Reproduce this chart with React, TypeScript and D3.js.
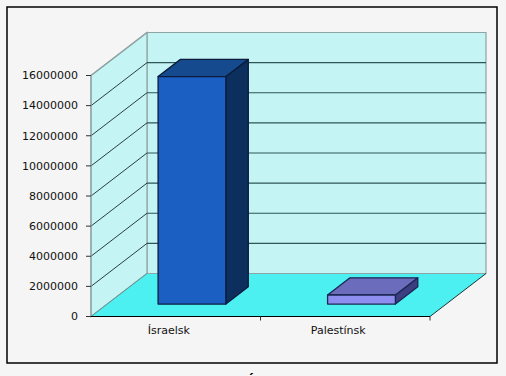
import React from "react";
import * as d3 from "d3";

const categories = ["Ísraelsk", "Palestínsk"];
const values = [15100000, 600000];
const yTicks = [0, 2000000, 4000000, 6000000, 8000000, 10000000, 12000000, 14000000, 16000000];
const title = "Í";

const barFront = ["#1c5fc3", "#8d8ef0"];
const barTop = ["#164a8e", "#6b6cbc"];
const barSide = ["#0d2f5d", "#3d3e82"];
const barStroke = ["#0a1b3c", "#1a2650"];

export default function App() {
  const W = 506, H = 376;
  const x0 = 91, x1 = 430;
  const DX = 56, DY = -43;
  const y = d3.scaleLinear().domain([0, 16000000]).range([316.5, 75.5]);
  const xb = d3.scaleBand<string>().domain(categories).range([x0, x1]).paddingInner(0.6).paddingOuter(0.3);
  const P = (px: number, py: number, z: number): [number, number] => [px + DX * z, py + DY * z];
  const pts = (arr: [number, number][]) => arr.map((p) => p.join(",")).join(" ");
  const yMin = y(0), yMax = y(16000000);
  const zf = 0.29, zb = 0.69;
  const step = xb.step();

  return (
    <svg width={W} height={H} style={{ position: "absolute", left: 0, top: 0, background: "#f5f5f5" }}
      fontFamily="'DejaVu Sans', sans-serif">
      <rect x={0} y={0} width={W} height={H} fill="#f5f5f5" />
      <rect x={7} y={7} width={490} height={356} fill="#f5f5f5" stroke="#000" strokeWidth={1.5} />
      {/* back wall */}
      <polygon points={pts([P(x0, yMax, 1), P(x1, yMax, 1), P(x1, yMin, 1), P(x0, yMin, 1)])}
        fill="#c4f4f3" stroke="#8fa4a4" strokeWidth={1.2} />
      {/* side wall */}
      <polygon points={pts([P(x0, yMax, 0), P(x0, yMax, 1), P(x0, yMin, 1), P(x0, yMin, 0)])}
        fill="#c4f4f3" stroke="#8fa4a4" strokeWidth={1.2} />
      {/* floor */}
      <polygon points={pts([P(x0, yMin, 0), P(x1, yMin, 0), P(x1, yMin, 1), P(x0, yMin, 1)])}
        fill="#4cf0f0" />
      <line x1={P(x0, yMin, 0)[0]} y1={P(x0, yMin, 0)[1]} x2={P(x0, yMin, 1)[0]} y2={P(x0, yMin, 1)[1]} stroke="#6a9090" strokeWidth={1} />
      <line x1={P(x0, yMin, 1)[0]} y1={P(x0, yMin, 1)[1]} x2={P(x1, yMin, 1)[0]} y2={P(x1, yMin, 1)[1]} stroke="#8fa4a4" strokeWidth={1.2} />
      <line x1={P(x1, yMin, 0)[0]} y1={P(x1, yMin, 0)[1]} x2={P(x1, yMin, 1)[0]} y2={P(x1, yMin, 1)[1]} stroke="#1d3434" strokeWidth={1} />
      {/* gridlines */}
      {yTicks.filter((t) => t > 0 && t < 16000000).map((t) => {
        const a = P(x0, y(t), 0), b = P(x0, y(t), 1), c = P(x1, y(t), 1);
        return (
          <g key={t}>
            <line x1={a[0]} y1={a[1]} x2={b[0]} y2={b[1]} stroke="#1a2a2a" strokeWidth={0.9} />
            <line x1={b[0]} y1={b[1]} x2={c[0]} y2={c[1]} stroke="#2e5656" strokeWidth={1.2} />
          </g>
        );
      })}
      {(() => {
        const a = P(x0, yMax, 0), b = P(x0, yMax, 1);
        return <line x1={a[0]} y1={a[1]} x2={b[0]} y2={b[1]} stroke="#8fa4a4" strokeWidth={1.2} />;
      })()}
      {/* bars */}
      {categories.map((c, i) => {
        const bx0 = xb(c)!, bx1 = bx0 + xb.bandwidth();
        const top = y(values[i]);
        const f = [P(bx0, top, zf), P(bx1, top, zf), P(bx1, yMin, zf), P(bx0, yMin, zf)] as [number, number][];
        const tp = [P(bx0, top, zf), P(bx0, top, zb), P(bx1, top, zb), P(bx1, top, zf)] as [number, number][];
        const sd = [P(bx1, top, zf), P(bx1, top, zb), P(bx1, yMin, zb), P(bx1, yMin, zf)] as [number, number][];
        return (
          <g key={c} stroke={barStroke[i]} strokeWidth={1.3} strokeLinejoin="round">
            <polygon points={pts(sd)} fill={barSide[i]} />
            <polygon points={pts(tp)} fill={barTop[i]} />
            <polygon points={pts(f)} fill={barFront[i]} />
          </g>
        );
      })}
      {/* front axes */}
      <line x1={x0} y1={yMax} x2={x0} y2={yMin} stroke="#8fa4a4" strokeWidth={1.2} />
      <line x1={x0} y1={yMin} x2={x1} y2={yMin} stroke="#000" strokeWidth={1.2} />
      {yTicks.map((t) => (
        <g key={t}>
          <line x1={x0 - 5} y1={y(t)} x2={x0} y2={y(t)} stroke="#333" strokeWidth={1} />
          <text x={78} y={y(t)} dy="0.35em" textAnchor="end" fontSize={11} fill="#111">{String(t)}</text>
        </g>
      ))}
      {[x0 + step, x1].map((tx, i) => (
        <line key={i} x1={tx} y1={yMin} x2={tx} y2={yMin + 4} stroke="#333" strokeWidth={1} />
      ))}
      {categories.map((c) => (
        <text key={c} x={xb(c)! + xb.bandwidth() / 2 - 7} y={334} textAnchor="middle" fontSize={11} fill="#111">{c}</text>
      ))}
      <text x={251} y={388} textAnchor="middle" fontSize={16} fontWeight="bold" fill="#000">{title}</text>
    </svg>
  );
}
